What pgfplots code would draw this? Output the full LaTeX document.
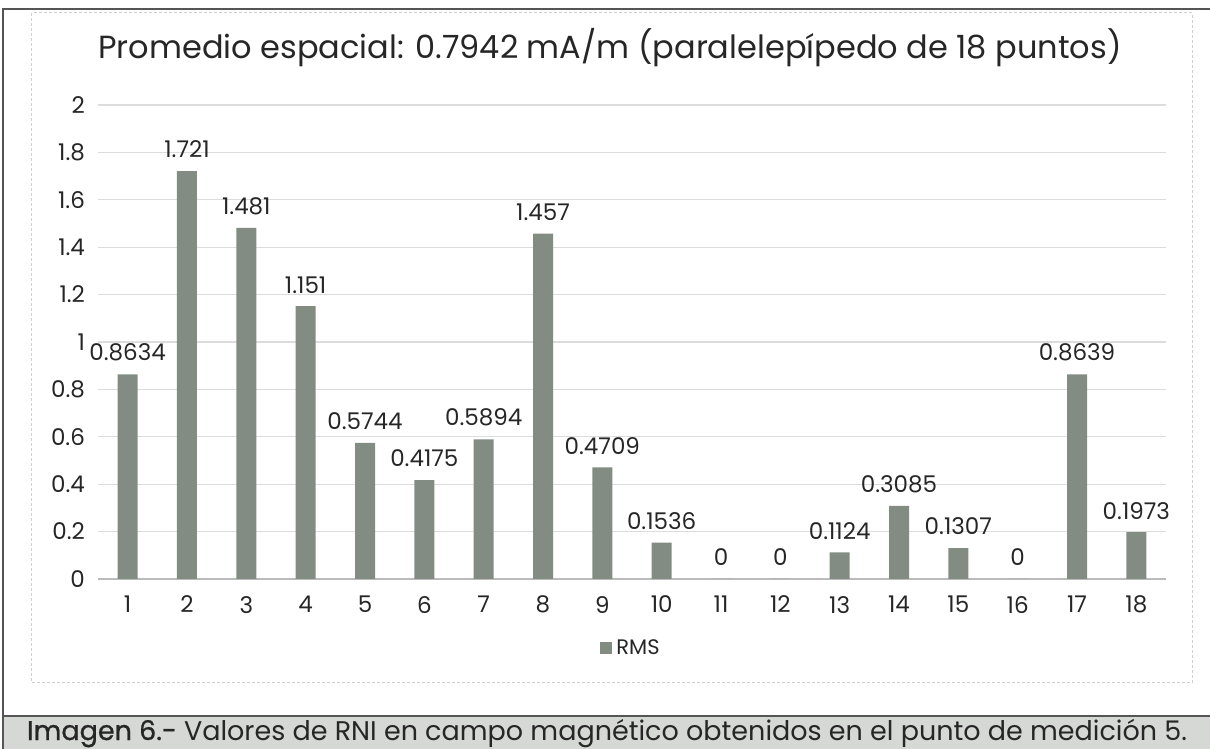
\documentclass[border=0pt]{standalone}
\usepackage{pgfplots}
\usepackage{pgfplotstable}
\pgfplotsset{compat=1.18}
\usepackage{fontspec}
\setmainfont{Poppins}
\newfontfamily\semibold{Poppins}[FakeBold=0.8]
\definecolor{barfill}{HTML}{838C83}
\definecolor{gridc}{HTML}{DCDCDC}
\definecolor{frameinner}{HTML}{CFCFCF}
\definecolor{frameouter}{HTML}{555555}
\definecolor{capbg}{HTML}{D6D8D6}
\definecolor{txt}{HTML}{262626}
\pgfplotstableread{
x y lab
1 0.8634 0.8634
2 1.721 1.721
3 1.481 1.481
4 1.151 1.151
5 0.5744 0.5744
6 0.4175 0.4175
7 0.5894 0.5894
8 1.457 1.457
9 0.4709 0.4709
10 0.1536 0.1536
11 0 0
12 0 0
13 0.1124 0.1124
14 0.3085 0.3085
15 0.1307 0.1307
16 0 0
17 0.8639 0.8639
18 0.1973 0.1973
}\rmsdata
\begin{document}
\begin{tikzpicture}
\useasboundingbox (-49pt,-85pt) rectangle (556pt,289.5pt);
% caption bar
\fill[capbg] (-47.5pt,-68.5pt) rectangle (556pt,-85pt);
\draw[frameouter, line width=0.9pt] (-47.5pt,-68.5pt) -- (556pt,-68.5pt);
% outer frame
\draw[frameouter, line width=0.8pt] (556pt,285pt) -- (-47.5pt,285pt) -- (-47.5pt,-85pt);
% inner chart frame
\draw[frameinner, line width=0.5pt, dash pattern=on 1.5pt off 1pt] (-33pt,283pt) rectangle (547pt,-52pt);
\begin{axis}[
  at={(0pt,0pt)}, anchor=south west,
  scale only axis,
  width=534pt, height=237pt,
  xmin=0.5, xmax=18.5, ymin=0, ymax=2,
  ytick={0,0.2,...,2},
  xtick={1,...,18},
  axis line style={draw=none},
  tick style={draw=none},
  ymajorgrids,
  grid style={gridc, line width=0.6pt},
  ticklabel style={font=\fontsize{11.5}{13}\selectfont, text=txt},
  /pgf/number format/assume math mode=true,
  yticklabel style={xshift=-3pt},
  xticklabel style={yshift=-5pt},
  clip=false,
  legend style={at={(0.5,0)}, anchor=north, yshift=-28pt, draw=none, fill=none,
    font=\fontsize{10.5}{12}\selectfont, text=txt, inner sep=0pt},
  legend image code/.code={\fill[barfill] (0pt,-3pt) rectangle (6pt,3pt);},
]
\draw[gridc!85!black, line width=0.6pt] (axis cs:0.5,0) -- (axis cs:18.5,0);
\addplot[ybar, bar width=10pt, fill=barfill, draw=none,
  point meta=explicit symbolic,
  nodes near coords,
  nodes near coords style={font=\fontsize{11.5}{13}\selectfont, text=txt, anchor=south, yshift=3pt}]
  table[x=x, y=y, meta=lab] {\rmsdata};
\addlegendentry{RMS}
\end{axis}
\node[text=txt, font=\fontsize{16}{19}\selectfont] at (256pt,265.5pt) {Promedio espacial: 0.7942 mA/m (paralelepípedo de 18 puntos)};
\node[text=txt, font=\fontsize{13.5}{16}\selectfont] at (254.5pt,-77pt) {{\semibold Imagen 6.-} Valores de RNI en campo magnético obtenidos en el punto de medición 5.};
\end{tikzpicture}
\end{document}
